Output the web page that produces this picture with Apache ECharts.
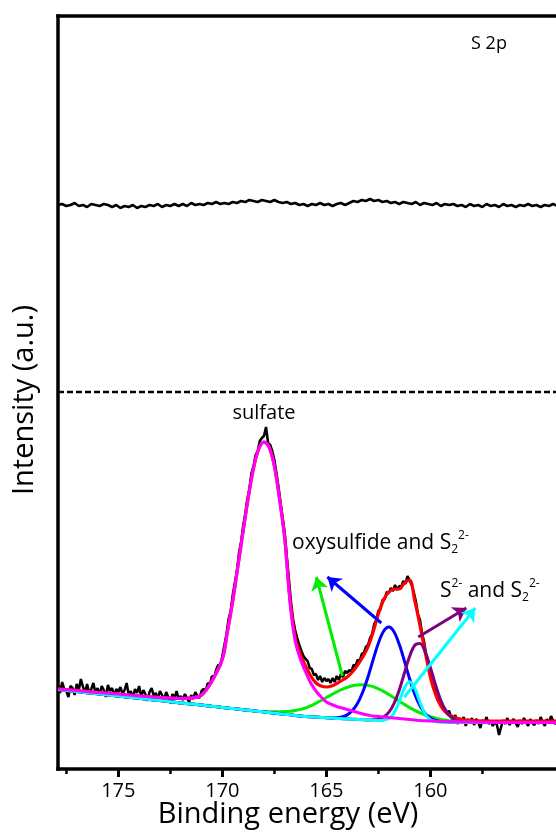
<!DOCTYPE html>
<html>
<head>
<meta charset="utf-8">
<script src="https://cdn.jsdelivr.net/npm/echarts@6/dist/echarts.min.js"></script>
<style>
html, body { margin: 0; padding: 0; background: #fff; }
#chart { width: 556px; height: 834px; }
</style>
</head>
<body>
<div id="chart"></div>
<script>
// S 2p core level: binding energy (eV) against intensity (arbitrary units)
const majorTicks = [175, 170, 165, 160];
const minorTicks = [177.5, 172.5, 167.5, 162.5, 157.5];

// Measured spectrum, lower trace, 0.1 eV steps from 177.9 eV downwards
const rawStart = 177.9;
const rawStep = 0.1;
const rawBottom = [
  84, 76, 87, 80, 78, 72, 83, 81, 74, 85,
  79, 90, 82, 77, 85, 75, 80, 86, 76, 81,
  74, 83, 79, 72, 84, 78, 81, 73, 80, 77,
  82, 75, 79, 86, 74, 78, 71, 80, 76, 83,
  72, 79, 75, 68, 77, 81, 73, 76, 70, 78,
  74, 69, 77, 72, 66, 75, 71, 78, 70, 73,
  69, 75, 71, 67, 74, 70, 77, 73, 71, 78,
  80, 78, 86, 84, 93, 91, 99, 104, 103, 113,
  124, 135, 150, 158, 174, 186, 198, 216, 227, 243,
  255, 270, 280, 296, 303, 314, 318, 328, 331, 333,
  342, 326, 324, 318, 309, 296, 282, 266, 251, 236,
  212, 190, 167, 150, 139, 131, 124, 118, 113, 110,
  108, 101, 100, 94, 95, 89, 93, 87, 91, 88,
  90, 86, 91, 87, 93, 89, 95, 92, 98, 96,
  99, 97, 104, 103, 109, 108, 115, 116, 122, 124,
  131, 135, 145, 149, 158, 160, 169, 170, 177, 176,
  181, 178, 184, 179, 183, 182, 188, 185, 193, 189,
  184, 177, 168, 155, 149, 136, 127, 114, 106, 95,
  88, 82, 74, 71, 66, 62, 60, 56, 58, 52,
  49, 54, 45, 51, 47, 52, 43, 50, 46, 51,
  44, 50, 47, 41, 49, 46, 52, 45, 48, 43,
  47, 44, 34, 42, 49, 45, 51, 44, 47, 50,
  46, 42, 49, 45, 51, 47, 43, 50, 46, 44,
  49, 45, 52, 47, 43, 50, 46, 53, 48, 45,
  50, 47, 44, 51, 46, 49, 45, 52, 48, 47
];

// Upper trace, 0.2 eV steps from 177.9 eV downwards
const topStart = 177.9;
const topStep = 0.2;
const rawTop = [
  564, 565, 563, 564, 566,
  563, 564, 562, 565, 564,
  563, 565, 564, 562, 564,
  561, 563, 562, 564, 561,
  563, 562, 564, 563, 565,
  562, 564, 563, 565, 563,
  565, 563, 566, 564, 565,
  564, 566, 565, 567, 565,
  566, 565, 567, 566, 568,
  567, 569, 568, 567, 569,
  568, 567, 569, 567, 566,
  567, 565, 566, 564, 565,
  563, 565, 564, 566, 564,
  565, 563, 565, 566, 564,
  566, 568, 567, 569, 568,
  570, 568, 569, 567, 568,
  566, 567, 565, 567, 566,
  565, 567, 564, 566, 565,
  564, 566, 563, 565, 564,
  565, 563, 564, 562, 565,
  563, 564, 562, 565, 563,
  564, 562, 565, 563, 564,
  562, 564, 563, 565, 563,
  564, 562, 564, 563, 565,
  563, 564, 562, 564, 563
];

// Middle reference trace
const dashedEnergy = [177.9, 153];
const dashedLevel = [377, 377];

// Peak fit on a common energy grid
const fitEnergy = [
  177.9, 177, 176, 175, 174, 173, 172, 171.5, 171, 170.5,
  170, 169.75, 169.5, 169.25, 169, 168.75, 168.5, 168.25, 168, 167.75,
  167.5, 167.25, 167, 166.75, 166.5, 166.25, 166, 165.75, 165.5, 165.25,
  165, 164.75, 164.5, 164.25, 164, 163.75, 163.5, 163.25, 163, 162.75,
  162.5, 162.25, 162, 161.75, 161.5, 161.25, 161, 160.75, 160.5, 160.25,
  160, 159.75, 159.5, 159.25, 159, 158.5, 158, 157, 156, 155,
  154, 153
];
const fitEnvelope = [
  80, 78.5, 76.5, 75, 73, 71.5, 70.5, 71, 74, 88,
  110, 138, 168, 203, 238, 272, 301, 320, 327, 322,
  303, 270, 231, 170, 132, 115, 103, 93, 86, 83,
  82, 83, 85.5, 88.5, 92, 97, 104, 112, 122, 137,
  155, 169, 177, 180, 180, 186, 189, 168, 143.5, 117,
  92, 74.5, 63, 56.5, 53, 49.5, 48.5, 48, 48, 48,
  48, 48
];
const fitSulfate = [
  80, 78.5, 76.5, 75, 73, 71.5, 70.5, 71, 74, 88,
  110, 138, 168, 203, 238, 272, 301, 320, 327, 322,
  303, 270, 230, 167, 128, 110, 97, 86, 78, 72,
  67, 64.5, 62.5, 61, 59.5, 58, 56.5, 55, 54, 53,
  52.5, 52, 51.5, 51, 50.5, 50, 49.5, 49, 48.5, 48.2,
  48, 47.8, 47.6, 47.4, 47.3, 47, 46.8, 46.6, 46.5, 46.5,
  46.5, 46.5
];
const fitOxysulfide = [
  79.5, 77.5, 75.2, 73.0, 70.7, 68.4, 66.1, 65.0, 63.9, 62.7,
  61.6, 61.0, 60.4, 59.9, 59.3, 58.7, 58.2, 57.6, 57.5, 57.3,
  57.2, 57.2, 57.4, 57.8, 58.5, 59.6, 61.0, 63.2, 65.8, 68.5,
  71.4, 74.4, 77.1, 79.6, 81.6, 83.3, 84.1, 84.3, 83.6, 82.3,
  80.1, 77.6, 74.5, 71.2, 67.8, 64.6, 61.4, 58.6, 56.1, 54.0,
  52.3, 50.8, 49.6, 48.8, 48.1, 47.2, 46.8, 46.5, 46.5, 46.5,
  46.5, 46.5
];
const fitDisulfideHigh = [
  79.5, 77.5, 75.2, 73.0, 70.7, 68.4, 66.1, 65.0, 63.9, 62.7,
  61.6, 61.0, 60.4, 59.9, 59.3, 58.7, 58.2, 57.6, 57.0, 56.5,
  55.9, 55.3, 54.8, 54.2, 53.6, 53.1, 52.5, 52.2, 51.9, 51.6,
  51.3, 51.0, 51.3, 52.1, 54.1, 58.4, 65.7, 77.0, 92.0, 109.4,
  125.8, 137.8, 142.0, 137.3, 124.9, 108.1, 90.3, 74.9, 63.3, 55.6,
  51.1, 48.7, 47.5, 47.0, 46.8, 46.6, 46.5, 46.5, 46.5, 46.5,
  46.5, 46.5
];
const fitSulfide = [
  79.5, 77.5, 75.2, 73.0, 70.7, 68.4, 66.1, 65.0, 63.9, 62.7,
  61.6, 61.0, 60.4, 59.9, 59.3, 58.7, 58.2, 57.6, 57.0, 56.5,
  55.9, 55.3, 54.8, 54.2, 53.6, 53.1, 52.5, 52.2, 51.9, 51.6,
  51.3, 51.0, 50.6, 50.3, 50.0, 49.8, 49.5, 49.3, 49.0, 49.3,
  49.9, 52.0, 56.6, 65.4, 78.8, 95.8, 112.4, 123.7, 125.5, 117.1,
  101.6, 84.0, 68.8, 58.1, 51.8, 47.3, 46.5, 46.5, 46.5, 46.5,
  46.5, 46.5
];
const fitDisulfideLow = [
  79.5, 77.5, 75.2, 73.0, 70.7, 68.4, 66.1, 65.0, 63.9, 62.7,
  61.6, 61.0, 60.4, 59.9, 59.3, 58.7, 58.2, 57.6, 57.0, 56.5,
  55.9, 55.3, 54.8, 54.2, 53.6, 53.1, 52.5, 52.2, 51.9, 51.6,
  51.3, 51.0, 50.6, 50.3, 50.0, 49.8, 49.5, 49.3, 49.0, 48.8,
  48.5, 48.8, 50.4, 55.9, 67.3, 81.0, 87.3, 80.7, 66.8, 55.1,
  49.4, 47.4, 46.8, 46.8, 46.7, 46.6, 46.5, 46.5, 46.5, 46.5,
  46.5, 46.5
];

// Arrows from the fitted components towards their labels (eV, a.u.)
const arrowFrom = [[164.23, 93], [162.36, 146], [160.58, 132], [161.25, 72]];
const arrowTo = [[165.48, 192], [164.95, 192], [158.27, 161], [157.84, 161]];

const FONT = 'Open Sans';
const pairs = (xs, ys) => ys.map((v, i) => [xs[i], v]);
const stepped = (start, step, ys) => ys.map((v, i) => [+(start - i * step).toFixed(2), v]);

const fitLine = (name, values, color, width) => ({
  name, type: 'line', data: pairs(fitEnergy, values),
  showSymbol: false, smooth: 0.35, clip: true, silent: true,
  lineStyle: { color, width }
});

const arrowColors = ['#00ee00', '#0000ff', '#800080', '#00ffff'];

const chart = echarts.init(document.getElementById('chart'), null, { renderer: 'canvas' });
chart.setOption({
  animation: false,
  backgroundColor: '#ffffff',
  // plot area runs past the right edge of the canvas
  grid: { left: 58, width: 518, top: 16, height: 753, containLabel: false, outerBoundsMode: 'none' },
  xAxis: [
    {
      type: 'value', min: 153, max: 177.9, inverse: true, position: 'bottom',
      axisLine: { show: true, onZero: false, lineStyle: { color: '#000', width: 3.5, cap: 'square' } },
      axisTick: { show: true, inside: false, length: 8, customValues: majorTicks, lineStyle: { color: '#000', width: 3 } },
      axisLabel: { show: true, customValues: majorTicks, margin: 12, fontSize: 20, fontFamily: FONT, color: '#000' },
      splitLine: { show: false }
    },
    {
      type: 'value', min: 153, max: 177.9, inverse: true, position: 'bottom',
      axisLine: { show: false, onZero: false },
      axisTick: { show: true, inside: false, length: 5, customValues: minorTicks, lineStyle: { color: '#000', width: 2.5 } },
      axisLabel: { show: false },
      splitLine: { show: false }
    },
    {
      type: 'value', min: 153, max: 177.9, inverse: true, position: 'top',
      axisLine: { show: true, onZero: false, lineStyle: { color: '#000', width: 3.5, cap: 'square' } },
      axisTick: { show: false }, axisLabel: { show: false }, splitLine: { show: false }
    }
  ],
  yAxis: {
    type: 'value', min: 0, max: 753,
    axisLine: { show: true, onZero: false, lineStyle: { color: '#000', width: 3.5, cap: 'square' } },
    axisTick: { show: false }, axisLabel: { show: false }, splitLine: { show: false }
  },
  series: [
    {
      name: 'measured', type: 'line', data: stepped(rawStart, rawStep, rawBottom),
      showSymbol: false, clip: true, silent: true,
      lineStyle: { color: '#000', width: 2.5 }
    },
    {
      name: 'upper', type: 'line', data: stepped(topStart, topStep, rawTop),
      showSymbol: false, clip: true, silent: true,
      lineStyle: { color: '#000', width: 2.5 }
    },
    {
      name: 'middle', type: 'line', data: pairs(dashedEnergy, dashedLevel),
      showSymbol: false, clip: true, silent: true,
      lineStyle: { color: '#000', width: 2.5, type: [6, 3] }
    },
    fitLine('envelope', fitEnvelope, '#ff0000', 3.2),
    fitLine('oxysulfide', fitOxysulfide, '#00ee00', 3),
    fitLine('S2 2- (high BE)', fitDisulfideHigh, '#0000ff', 3),
    fitLine('S 2-', fitSulfide, '#800080', 3),
    fitLine('S2 2- (low BE)', fitDisulfideLow, '#00ffff', 3),
    fitLine('sulfate', fitSulfate, '#ff00ff', 3),
    {
      name: 'arrows', type: 'line', data: [], silent: true,
      markLine: {
        silent: true, animation: false,
        symbol: ['none', 'arrow'], symbolSize: 13,
        label: { show: false },
        emphasis: { disabled: true },
        data: arrowFrom.map((p, i) => [
          { coord: p, lineStyle: { color: arrowColors[i], width: 3, type: 'solid' }, itemStyle: { color: arrowColors[i] } },
          { coord: arrowTo[i] }
        ])
      }
    }
  ],
  graphic: [
    { type: 'text', x: 288, y: 815, silent: true,
      style: { text: 'Binding energy (eV)', fontSize: 29, fontFamily: FONT, fill: '#000', align: 'center', verticalAlign: 'middle' } },
    { type: 'text', x: 25, y: 400, rotation: Math.PI / 2, silent: true,
      style: { text: 'Intensity (a.u.)', fontSize: 29, fontFamily: FONT, fill: '#000', align: 'center', verticalAlign: 'middle' } },
    { type: 'text', x: 489, y: 44, silent: true,
      style: { text: 'S 2p', fontSize: 18, fontFamily: FONT, fill: '#000', align: 'center', verticalAlign: 'middle' } },
    { type: 'text', x: 264, y: 413, silent: true,
      style: { text: 'sulfate', fontSize: 20, fontFamily: FONT, fill: '#000', align: 'center', verticalAlign: 'middle' } },
    { type: 'text', x: 292, y: 543, silent: true,
      style: {
        text: 'oxysulfide and S{sub|2}{sup|2-}', fontSize: 21, fontFamily: FONT, fill: '#000',
        lineHeight: 26, align: 'left', verticalAlign: 'middle',
        rich: {
          sub: { fontSize: 12, fontFamily: FONT, fill: '#000', lineHeight: 12, verticalAlign: 'bottom' },
          sup: { fontSize: 12, fontFamily: FONT, fill: '#000', lineHeight: 12, verticalAlign: 'top' }
        }
      } },
    { type: 'text', x: 440, y: 591, silent: true,
      style: {
        text: 'S{sup|2-} and S{sub|2}{sup|2-}', fontSize: 21, fontFamily: FONT, fill: '#000',
        lineHeight: 26, align: 'left', verticalAlign: 'middle',
        rich: {
          sub: { fontSize: 12, fontFamily: FONT, fill: '#000', lineHeight: 12, verticalAlign: 'bottom' },
          sup: { fontSize: 12, fontFamily: FONT, fill: '#000', lineHeight: 12, verticalAlign: 'top' }
        }
      } }
  ]
});
</script>
</body>
</html>
